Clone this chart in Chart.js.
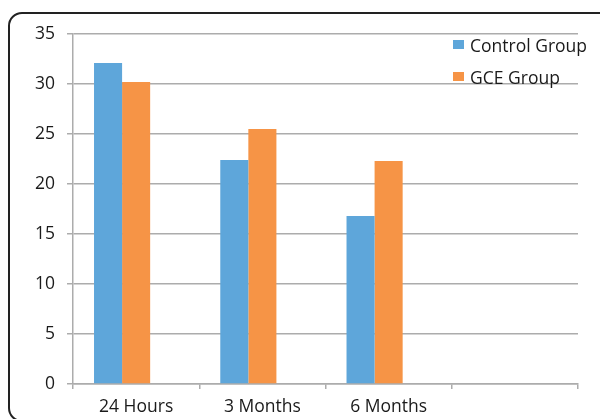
<!DOCTYPE html>
<html>
<head>
<meta charset="utf-8">
<script src="https://cdn.jsdelivr.net/npm/chart.js@4/dist/chart.umd.min.js"></script>
<style>
  html, body { margin: 0; padding: 0; background: #fff; }
  #wrap { position: relative; width: 600px; height: 419px; overflow: hidden; font-family: "Open Sans", Lato, sans-serif; }
  #frame { position: absolute; left: 8px; top: 12px; width: 620px; height: 406px; border: 2px solid #222; border-radius: 14px; }
  #chartBox { position: absolute; left: 0; top: 0; width: 600px; height: 419px; }
  #legend { position: absolute; left: 453px; top: 34px; font-size: 17.5px; color: #1a1a1a; }
  .lg-item { display: flex; align-items: center; height: 22px; margin-bottom: 10px; }
  .lg-box { width: 11px; height: 9px; margin-right: 6px; margin-top: -2px; }
</style>
</head>
<body>
<div id="wrap">
  <div id="frame"></div>
  <div id="chartBox"><canvas id="barChart"></canvas></div>
  <div id="legend"></div>
</div>
<script>
// Dữ liệu biểu đồ
const categories = ['24 Hours', '3 Months', '6 Months', ''];
const controlGroup = [32.1, 22.4, 16.8, null];
const gceGroup = [30.2, 25.5, 22.3, null];
// cột trống thứ ba (giữ vị trí như bản gốc Excel)
const emptySeries = [null, null, null, null];
const yTicks = [0, 5, 10, 15, 20, 25, 30, 35];

const blue = '#5EA6DA';
const orange = '#F69446';
const gridColor = '#ACACAC';
const fontFamily = '"Open Sans", Lato, sans-serif';

let barChart = null;

function initBarChart() {
    const ctx = document.getElementById('barChart');

    barChart = new Chart(ctx, {
        type: 'bar',
        data: {
            labels: categories,
            datasets: [{
                label: 'Control Group',
                data: controlGroup,
                backgroundColor: blue,
                showInLegend: true
            }, {
                label: 'GCE Group',
                data: gceGroup,
                backgroundColor: orange,
                showInLegend: true
            }, {
                label: '',
                data: emptySeries,
                backgroundColor: 'rgba(0,0,0,0)',
                showInLegend: false
            }]
        },
        options: {
            responsive: true,
            maintainAspectRatio: false,
            animation: false,
            categoryPercentage: 0.667,
            barPercentage: 1,
            layout: {
                padding: { left: 0, top: 34, right: 22, bottom: 0 }
            },
            plugins: {
                legend: { display: false },
                tooltip: { enabled: false }
            },
            scales: {
                x: {
                    afterFit: function(scale) { scale.height = 35; },
                    grid: {
                        offset: true,
                        drawOnChartArea: false,
                        drawTicks: true,
                        tickLength: 5,
                        color: gridColor,
                        lineWidth: 1.5
                    },
                    border: { color: gridColor, width: 1.5 },
                    ticks: {
                        color: '#1a1a1a',
                        padding: 8,
                        font: { family: fontFamily, size: 17.5 },
                        maxRotation: 0
                    }
                },
                y: {
                    min: 0,
                    max: 35,
                    afterFit: function(scale) { scale.width = 73; },
                    afterBuildTicks: function(scale) {
                        scale.ticks = yTicks.map(v => ({ value: v }));
                    },
                    grid: {
                        color: gridColor,
                        lineWidth: 1.5,
                        tickLength: 6
                    },
                    border: { color: gridColor, width: 1.5 },
                    ticks: {
                        color: '#1a1a1a',
                        padding: 12,
                        font: { family: fontFamily, size: 17.5 }
                    }
                }
            }
        }
    });

    buildLegend();
}

// Legend HTML đặt ở góc trên bên phải
function buildLegend() {
    const legendDiv = document.getElementById('legend');
    legendDiv.innerHTML = '';
    barChart.data.datasets.forEach(ds => {
        if (!ds.showInLegend) return;
        const item = document.createElement('div');
        item.className = 'lg-item';
        const box = document.createElement('span');
        box.className = 'lg-box';
        box.style.background = ds.backgroundColor;
        const txt = document.createElement('span');
        txt.textContent = ds.label;
        item.appendChild(box);
        item.appendChild(txt);
        legendDiv.appendChild(item);
    });
}

initBarChart();
</script>
</body>
</html>
